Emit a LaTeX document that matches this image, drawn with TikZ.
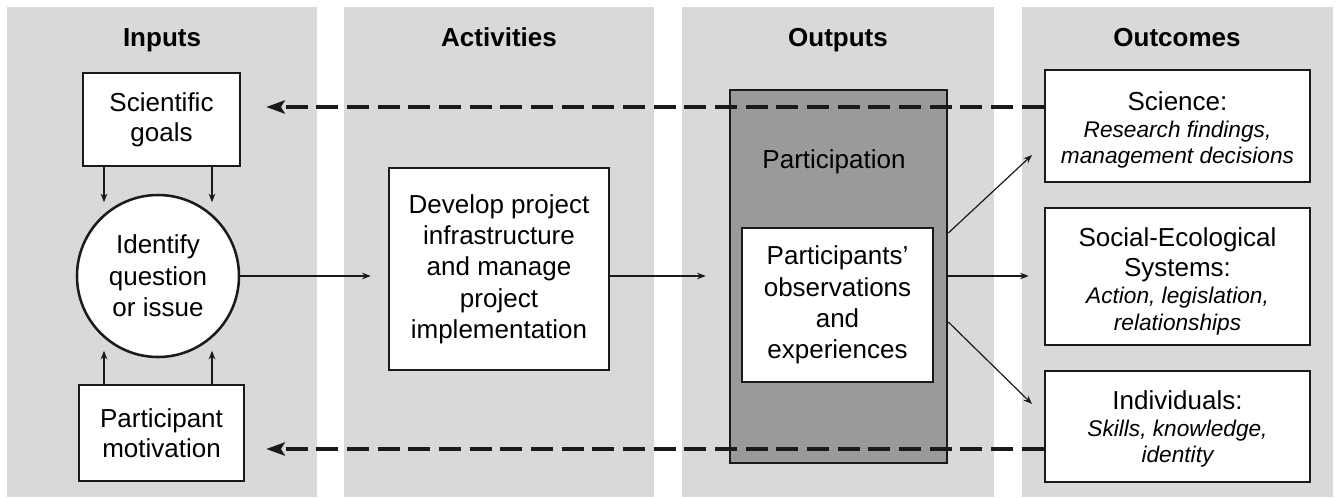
\documentclass[tikz,border=0pt]{standalone}
\usepackage{fontspec}
\setmainfont{Liberation Sans}
\usetikzlibrary{arrows.meta}
\definecolor{colbg}{HTML}{D9D9D9}
\definecolor{darkfill}{HTML}{9A9A9A}
\definecolor{linecol}{HTML}{1A1A1A}
\newcommand{\bodyfont}{\fontsize{19.5}{23.5}\selectfont}
\newcommand{\tightfont}{\fontsize{19.5}{22.5}\selectfont}
\newcommand{\outfont}{\fontsize{19.5}{20}\selectfont}
\newcommand{\itfont}{\itshape\fontsize{17}{20}\selectfont}
\begin{document}
\begin{tikzpicture}[x=0.75pt,y=-0.75pt,
  colbox/.style={fill=colbg,draw=none},
  header/.style={font=\bfseries\fontsize{19.5}{23.5}\selectfont,anchor=base,inner sep=0pt},
  box/.style={draw=linecol,line width=1.9pt,fill=white,align=center,font=\bodyfont,inner sep=0pt},
  darkbox/.style={draw=linecol,line width=1.9pt,fill=darkfill,inner sep=0pt},
  plain/.style={font=\bodyfont,inner sep=0pt},
  outtext/.style={font=\outfont,align=center,inner sep=0pt},
  arr/.style={draw=linecol,line width=0.9pt,-{Stealth[length=6.5pt,width=5pt]}},
  dasharr/.style={draw=linecol,line width=2.3pt,dash pattern=on 16.5pt off 6.5pt,-{Stealth[length=14pt,width=10pt,inset=3pt]}}
]
\useasboundingbox (0,0) rectangle (1337,497);
\fill[white] (0,0) rectangle (1337,497);
% columns
\fill[colbox] (7,7) rectangle (317,497);
\fill[colbox] (344,7) rectangle (654,497);
\fill[colbox] (682,7) rectangle (994,497);
\fill[colbox] (1022,7) rectangle (1333,497);
% headers
\node[header] (hin) at (162,46) {Inputs};
\node[header] (hact) at (499,46) {Activities};
\node[header] (hout) at (838,46) {Outputs};
\node[header] (hoc) at (1177,46) {Outcomes};
% inputs
\node[box,font=\tightfont,minimum width=117.75pt,minimum height=69.75pt] (sg) at (161.5,119.5) {Scientific\\goals};
\node[box,circle,minimum size=121.5pt] (circ) at (158,276) {Identify\\question\\or issue};
\node[box,font=\tightfont,minimum width=123.75pt,minimum height=72pt] (pm) at (161.5,433) {Participant\\motivation};
% activities
\node[box,minimum width=165pt,minimum height=151.5pt] (dev) at (499,269) {Develop project\\infrastructure\\and manage\\project\\implementation};
% outputs
\node[darkbox,minimum width=162.75pt,minimum height=279.75pt] (part) at (838.5,276.5) {};
\node[plain] (partlabel) at (834,162) {Participation};
\node[box,minimum width=143.25pt,minimum height=115.5pt] (obs) at (837.5,305) {Participants'\\observations\\and\\experiences};
% outcomes
\node[box,minimum width=198.75pt,minimum height=84pt] (sci) at (1177.5,126) {};
\node[outtext] (scitext) at (1177.5,130) {Science:\\\itfont Research findings,\\\itfont management decisions};
\node[box,minimum width=198.75pt,minimum height=102.75pt] (ses) at (1177.5,276.5) {};
\node[outtext] (sestext) at (1177.5,281.5) {Social-Ecological\\[2.5pt]Systems:\\\itfont Action, legislation,\\\itfont relationships};
\node[box,minimum width=198.75pt,minimum height=83.25pt] (ind) at (1177.5,426.5) {};
\node[outtext] (indtext) at (1177.5,429) {Individuals:\\\itfont Skills, knowledge,\\\itfont identity};
% helper coordinates
\coordinate (ylevtop) at (0,107);
\coordinate (ylevbot) at (0,449);
\coordinate (tipsci) at (1032,155);
\coordinate (tipind) at (1032,404);
% inputs arrows
\draw[arr] ([xshift=-40.5pt]circ.center |- sg.south) -- ++(0,35);
\draw[arr] ([xshift=40.5pt]circ.center |- sg.south) -- ++(0,35);
\draw[arr] ([xshift=-40.5pt]circ.center |- pm.north) -- ++(0,-33);
\draw[arr] ([xshift=40.5pt]circ.center |- pm.north) -- ++(0,-33);
% flow arrows
\draw[arr,shorten >=12.75pt] (circ.east) -- (dev.west |- circ.east);
\draw[arr,shorten >=17.25pt] (dev.east |- circ.east) -- (part.west |- circ.east);
\draw[arr] ([yshift=32.6pt]part.east) -- (tipsci);
\draw[arr,shorten >=11.25pt] (part.east |- circ.east) -- (ses.west |- circ.east);
\draw[arr] ([yshift=-34.1pt]part.east) -- (tipind);
% feedback dashed arrows
\draw[dasharr,shorten >=18.75pt] (sci.west |- ylevtop) -- (sg.east |- ylevtop);
\draw[dasharr,shorten >=15.75pt] (ind.west |- ylevbot) -- (pm.east |- ylevbot);
\end{tikzpicture}
\end{document}
